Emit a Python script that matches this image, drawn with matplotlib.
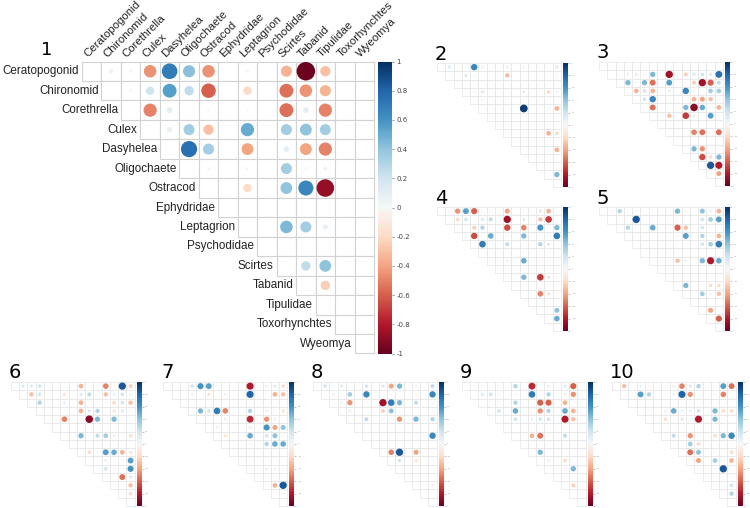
import numpy as np
import matplotlib
matplotlib.use("Agg")
import matplotlib.pyplot as plt
from matplotlib.patches import Rectangle, Circle
from matplotlib import cm, colors

taxa = ["Ceratopogonid", "Chironomid", "Corethrella", "Culex", "Dasyhelea",
        "Oligochaete", "Ostracod", "Ephydridae", "Leptagrion", "Psychodidae",
        "Scirtes", "Tabanid", "Tipulidae", "Toxorhynchtes", "Wyeomya"]

# (row, col, r) for the upper triangle of each site
p1 = [(0, 1, 0.05), (0, 2, -0.03), (0, 3, -0.45), (0, 4, 0.7), (0, 5, 0.42), (0, 6, -0.45),
      (0, 8, -0.03), (0, 10, -0.35), (0, 11, -0.98), (0, 12, -0.3),
      (1, 2, -0.02), (1, 3, 0.2), (1, 4, 0.55), (1, 5, 0.25), (1, 6, -0.6), (1, 8, -0.2),
      (1, 10, -0.55), (1, 11, -0.45), (1, 12, -0.35),
      (2, 3, -0.5), (2, 4, 0.1), (2, 6, 0.02), (2, 8, -0.02), (2, 10, -0.55), (2, 11, 0.1), (2, 12, -0.5),
      (3, 4, 0.08), (3, 5, 0.35), (3, 6, -0.3), (3, 8, 0.5), (3, 10, 0.35), (3, 11, 0.4), (3, 12, 0.35),
      (4, 5, 0.75), (4, 6, 0.35), (4, 8, -0.4), (4, 10, 0.1), (4, 11, -0.4), (4, 12, -0.5),
      (5, 6, 0.02), (5, 8, -0.02), (5, 10, 0.35), (5, 11, 0.02), (5, 12, 0.04),
      (6, 8, -0.2), (6, 10, 0.4), (6, 11, 0.65), (6, 12, -0.88),
      (8, 10, 0.45), (8, 11, 0.35), (8, 12, 0.08),
      (10, 11, 0.25), (10, 12, 0.4), (11, 12, -0.25)]

p2 = [(0, 1, 0.15), (0, 3, 0.03), (0, 4, 0.65), (0, 5, -0.1), (0, 8, -0.1), (0, 10, -0.08), (0, 14, 0.15),
      (1, 3, 0.15), (1, 4, 0.05), (1, 5, -0.03), (1, 8, -0.3), (1, 10, -0.03), (1, 14, 0.03),
      (3, 4, 0.05), (3, 5, 0.15), (3, 10, 0.1), (3, 13, -0.2), (3, 14, 0.08),
      (4, 5, -0.05), (4, 8, -0.03), (4, 10, -0.03), (4, 13, -0.03),
      (5, 10, 0.95), (5, 13, -0.05), (5, 14, -0.35),
      (8, 10, -0.03), (8, 13, -0.35), (8, 14, -0.2),
      (10, 13, -0.05), (10, 14, -0.35), (13, 14, 0.45)]

p3 = [(1, 3, 0.1), (1, 4, 0.12), (1, 5, 0.05), (1, 6, 0.45), (1, 8, -0.85), (1, 10, -0.25),
      (1, 11, 0.15), (1, 12, 0.2), (1, 13, 0.15), (1, 14, 0.75),
      (2, 3, 0.45), (2, 4, 0.05), (2, 5, 0.45), (2, 6, -0.55), (2, 8, 0.55), (2, 10, 0.03),
      (2, 11, -0.25), (2, 12, -0.85), (2, 13, -0.6), (2, 14, 0.25),
      (3, 4, -0.35), (3, 5, 0.2), (3, 6, -0.35), (3, 8, 0.1), (3, 10, 0.65), (3, 11, -0.05),
      (3, 12, -0.03), (3, 13, 0.35), (3, 14, 0.35),
      (4, 5, 0.2), (4, 6, 0.65), (4, 10, 0.03), (4, 11, -0.35), (4, 12, -0.4), (4, 13, -0.3), (4, 14, 0.05),
      (5, 6, -0.55), (5, 10, 0.45), (5, 11, -0.9), (5, 12, 0.5), (5, 13, 0.03), (5, 14, -0.35),
      (6, 8, -0.3), (6, 10, -0.7), (6, 11, 0.1), (6, 12, 0.03), (6, 13, 0.55), (6, 14, 0.05),
      (8, 10, -0.03), (8, 11, -0.5), (8, 12, -0.55), (8, 14, -0.55),
      (10, 11, 0.45), (10, 12, -0.45), (10, 13, 0.03),
      (11, 12, -0.65), (11, 13, -0.2), (11, 14, 0.45),
      (12, 13, 0.85), (12, 14, -0.8), (13, 14, -0.4)]

p4 = [(0, 1, 0.03), (0, 2, -0.45), (0, 3, 0.55), (0, 4, -0.6), (0, 5, 0.03), (0, 6, -0.05),
      (0, 8, -0.4), (0, 10, 0.03), (0, 12, 0.15), (0, 13, -0.35), (0, 14, 0.05),
      (1, 2, -0.2), (1, 3, 0.2), (1, 4, 0.03), (1, 5, 0.15), (1, 6, 0.25), (1, 8, -0.85),
      (1, 10, 0.15), (1, 12, -0.3), (1, 13, -0.7), (1, 14, 0.03),
      (2, 4, -0.25), (2, 5, 0.3), (2, 8, -0.65), (2, 10, -0.5), (2, 12, 0.6), (2, 13, -0.05), (2, 14, 0.45),
      (3, 4, -0.65), (3, 6, 0.5), (3, 8, -0.05), (3, 10, 0.45), (3, 12, 0.03), (3, 13, -0.05), (3, 14, 0.7),
      (4, 5, 0.7), (4, 8, 0.25), (4, 12, 0.3), (4, 13, 0.15),
      (5, 10, 0.03), (5, 12, 0.03), (5, 13, -0.03),
      (6, 8, -0.1), (6, 10, 0.5), (6, 13, -0.05),
      (8, 10, 0.45), (8, 12, -0.7), (8, 13, 0.15), (8, 14, -0.05),
      (10, 12, -0.5), (10, 13, -0.15), (10, 14, 0.03),
      (12, 13, -0.03), (12, 14, 0.4), (13, 14, 0.5)]

p5 = [(0, 1, 0.05), (0, 2, 0.3), (0, 3, -0.05), (0, 4, 0.03), (0, 6, 0.05), (0, 9, 0.45),
      (0, 10, -0.05), (0, 12, 0.4), (0, 13, 0.1), (0, 14, -0.35),
      (1, 3, 0.03), (1, 4, 0.85), (1, 6, 0.03), (1, 9, 0.03), (1, 10, 0.03), (1, 12, 0.2),
      (1, 13, 0.35), (1, 14, 0.55),
      (2, 3, 0.3), (2, 4, 0.03), (2, 6, 0.5), (2, 9, -0.6), (2, 10, -0.3), (2, 12, 0.2), (2, 13, -0.05),
      (3, 6, 0.03), (3, 9, -0.05), (3, 10, 0.55), (3, 12, 0.3), (3, 13, 0.03), (3, 14, -0.35),
      (4, 6, 0.03), (4, 9, 0.03), (4, 10, 0.03), (4, 12, 0.2), (4, 13, 0.35), (4, 14, 0.7),
      (6, 9, -0.3), (6, 10, 0.1), (6, 12, 0.45), (6, 13, -0.8), (6, 14, 0.5),
      (9, 10, 0.45), (9, 12, 0.03), (9, 13, -0.2), (9, 14, -0.2),
      (10, 12, 0.35), (10, 13, 0.05), (10, 14, -0.3),
      (12, 13, -0.4), (13, 14, -0.6)]

p6 = [(0, 1, 0.15), (0, 2, 0.15), (0, 3, 0.2), (0, 4, 0.03), (0, 6, 0.03), (0, 8, -0.35),
      (0, 9, 0.03), (0, 10, 0.03), (0, 11, -0.5), (0, 12, 0.03), (0, 13, 0.85), (0, 14, -0.25),
      (1, 2, -0.3), (1, 3, 0.2), (1, 4, 0.03), (1, 6, -0.15), (1, 8, 0.15), (1, 9, 0.25),
      (1, 11, -0.3), (1, 12, 0.1), (1, 13, 0.2), (1, 14, 0.1),
      (2, 3, 0.3), (2, 6, 0.1), (2, 8, -0.35), (2, 10, 0.03), (2, 11, 0.05), (2, 12, -0.2),
      (2, 13, 0.2), (2, 14, -0.3),
      (3, 6, 0.03), (3, 8, -0.35), (3, 9, 0.15), (3, 10, 0.3), (3, 12, -0.15), (3, 13, 0.15), (3, 14, 0.03),
      (4, 6, -0.5), (4, 9, -0.9), (4, 10, 0.45), (4, 11, 0.03), (4, 12, 0.45), (4, 13, 0.03),
      (6, 8, 0.45), (6, 10, 0.25), (6, 11, 0.35), (6, 12, 0.1), (6, 13, 0.03), (6, 14, -0.2),
      (8, 9, -0.2), (8, 10, 0.03), (8, 11, 0.55), (8, 12, 0.5), (8, 13, -0.35), (8, 14, -0.15),
      (9, 11, -0.1), (9, 12, 0.03), (9, 13, 0.03), (9, 14, 0.55),
      (10, 11, 0.2), (10, 12, 0.03), (10, 14, 0.6),
      (11, 13, -0.55), (11, 14, 0.15), (12, 14, -0.3), (13, 14, -0.2)]

p7 = [(0, 3, 0.2), (0, 4, 0.6), (0, 5, 0.55), (0, 6, -0.05), (0, 7, 0.03), (0, 10, -0.8),
      (0, 12, 0.1), (0, 13, 0.15), (0, 14, -0.2),
      (1, 3, -0.1), (1, 5, -0.15), (1, 7, 0.1), (1, 10, 0.8), (1, 12, 0.03), (1, 13, -0.35), (1, 14, -0.3),
      (3, 4, 0.45), (3, 5, 0.2), (3, 6, 0.7), (3, 7, -0.5), (3, 10, 0.3), (3, 12, -0.1),
      (3, 13, 0.03), (3, 14, -0.15),
      (4, 7, 0.1), (4, 10, -0.75), (4, 12, -0.45), (4, 13, 0.1),
      (5, 6, -0.1), (5, 10, -0.1), (5, 12, 0.6), (5, 13, -0.4), (5, 14, 0.4),
      (6, 7, -0.15), (6, 10, 0.5), (6, 12, 0.2), (6, 13, 0.4), (6, 14, 0.03),
      (7, 10, -0.05), (7, 12, 0.3), (7, 13, 0.5), (7, 14, 0.5),
      (10, 12, 0.1), (10, 13, -0.08), (10, 14, -0.05),
      (12, 13, -0.35), (12, 14, 0.85), (13, 14, -0.05)]

p8 = [(0, 1, 0.2), (0, 2, 0.03), (0, 3, 0.15), (0, 6, 0.2), (0, 8, 0.15), (0, 9, -0.4),
      (0, 10, 0.45), (0, 12, 0.1), (0, 14, 0.25),
      (1, 2, -0.1), (1, 3, 0.03), (1, 4, 0.35), (1, 6, 0.65), (1, 9, 0.03), (1, 12, -0.05), (1, 14, 0.65),
      (2, 3, 0.1), (2, 4, -0.45), (2, 6, -0.05), (2, 8, -0.85), (2, 9, 0.7), (2, 10, 0.45),
      (2, 12, 0.25), (2, 14, -0.05),
      (3, 4, -0.1), (3, 8, -0.25), (3, 9, 0.4), (3, 12, 0.03), (3, 14, 0.03),
      (4, 6, 0.25), (4, 8, -0.05), (4, 9, 0.03), (4, 10, -0.45), (4, 12, 0.45), (4, 14, 0.3),
      (6, 9, 0.03), (6, 10, 0.03), (6, 12, -0.05), (6, 14, 0.65),
      (8, 9, -0.5), (8, 10, 0.85), (8, 12, -0.4),
      (9, 10, 0.2), (9, 12, -0.15), (9, 14, 0.03), (12, 14, -0.1)]

p9 = [(0, 1, 0.05), (0, 2, 0.03), (0, 4, 0.05), (0, 6, 0.3), (0, 8, -0.75), (0, 9, 0.03),
      (0, 10, 0.1), (0, 12, 0.15), (0, 13, -0.6),
      (1, 2, 0.15), (1, 3, 0.2), (1, 4, 0.05), (1, 6, -0.05), (1, 8, 0.7), (1, 9, 0.03),
      (1, 10, 0.3), (1, 12, -0.1), (1, 13, -0.45),
      (2, 3, 0.03), (2, 4, 0.03), (2, 6, 0.3), (2, 9, -0.6), (2, 10, -0.6), (2, 12, -0.35), (2, 13, 0.03),
      (3, 4, 0.2), (3, 6, 0.5), (3, 9, -0.45), (3, 10, 0.3), (3, 12, 0.5), (3, 13, -0.35),
      (4, 6, 0.2), (4, 8, 0.1), (4, 9, 0.2), (4, 10, 0.2), (4, 12, -0.8), (4, 13, -0.3),
      (6, 8, -0.35), (6, 9, -0.55), (6, 12, 0.25), (6, 13, 0.03),
      (8, 9, 0.45), (9, 10, 0.1), (9, 12, -0.2),
      (10, 12, -0.05), (10, 13, 0.45), (12, 13, -0.25)]

p10 = [(0, 1, -0.3), (0, 3, 0.1), (0, 4, -0.05), (0, 6, 0.03), (0, 7, -0.1), (0, 8, -0.5),
       (0, 9, 0.15), (0, 10, 0.3), (0, 12, 0.03), (0, 13, 0.55), (0, 14, -0.55),
       (1, 3, 0.55), (1, 4, 0.3), (1, 6, 0.03), (1, 7, 0.1), (1, 8, 0.8), (1, 9, -0.45),
       (1, 12, 0.05), (1, 13, -0.5),
       (3, 4, 0.03), (3, 6, -0.1), (3, 7, 0.5), (3, 8, 0.1), (3, 9, 0.1), (3, 10, 0.2),
       (3, 12, 0.45), (3, 13, -0.2), (3, 14, -0.2),
       (4, 6, -0.2), (4, 8, 0.15), (4, 10, -0.8), (4, 12, 0.45), (4, 13, 0.03),
       (6, 7, 0.25), (6, 8, 0.03), (6, 9, -0.45), (6, 12, -0.2), (6, 13, 0.45), (6, 14, 0.65),
       (7, 9, 0.35), (7, 10, -0.2), (7, 14, 0.03),
       (8, 9, -0.55), (8, 10, 0.4), (8, 12, 0.03), (8, 14, -0.2),
       (9, 10, -0.4), (9, 12, 0.35), (9, 13, 0.03), (9, 14, -0.35),
       (10, 12, -0.05), (10, 13, 0.85), (12, 14, 0.2), (13, 14, 0.3)]

W, H = 750, 508
fig = plt.figure(figsize=(7.5, 5.08), dpi=100)
cmap = plt.get_cmap("RdBu")
norm = colors.Normalize(-1, 1)


def box(x, y, w, h):
    return [x / W, 1 - (y + h) / H, w / W, h / H]


def corr_panel(vals, x0, y0, size, grid_col, lw, cb_gap, cb_w, tick_fs, tick_col, pad):
    ax = fig.add_axes(box(x0, y0, size, size))
    ax.set_xlim(0, 15)
    ax.set_ylim(15, 0)
    ax.axis("off")
    for i in range(15):
        for j in range(i, 15):
            ax.add_patch(Rectangle((j, i), 1, 1, fc="white", ec=grid_col, lw=lw, clip_on=False))
    for i, j, r in vals:
        ax.add_patch(Circle((j + 0.5, i + 0.5), 0.48 * np.sqrt(abs(r)),
                            fc=cmap(norm(r)), ec="none", clip_on=False))
    cax = fig.add_axes(box(x0 + size + cb_gap, y0, cb_w, size))
    ticks = np.round(np.linspace(-1, 1, 11), 1)
    cb = fig.colorbar(cm.ScalarMappable(norm=norm, cmap=cmap), cax=cax, ticks=ticks)
    cb.outline.set_visible(False)
    cb.ax.set_yticklabels(["%g" % (t + 0.0) for t in ticks])
    cb.ax.tick_params(labelsize=tick_fs, length=1.5, width=0.4, pad=pad,
                      colors=tick_col, labelcolor=tick_col)
    return ax


# panel 1, labelled
ax1 = corr_panel(p1, 82, 61.5, 292, "#d2d2d2", 0.8, 4, 14, 5, "#444444", 1.5)
for i, name in enumerate(taxa):
    ax1.text(i - 0.15, i + 0.5, name, ha="right", va="center",
             fontsize=8.4, family="Liberation Sans", color="#222222")
    ax1.text(i + 0.3, -0.2, name, ha="left", va="baseline", rotation=45,
             rotation_mode="anchor", fontsize=8.2, family="Liberation Sans", color="#222222")
fig.text(47 / W, 1 - 50 / H, "1", fontsize=13, ha="center", va="center")

small = [(p2, 437, 63, "2"), (p3, 599, 62, "3"), (p4, 437, 207, "4"), (p5, 599, 207, "5"),
         (p6, 10.7, 382, "6"), (p7, 163.3, 382, "7"), (p8, 312.7, 382, "8"),
         (p9, 461.7, 382, "9"), (p10, 611.7, 382, "10")]
for vals, x0, y0, num in small:
    corr_panel(vals, x0, y0, 124, "#e4e4e4", 0.5, 2, 5, 1.5, "#999999", 1)
    fig.text((x0 - 2) / W, 1 - (y0 - 9) / H, num, fontsize=14, ha="left", va="center")

fig.savefig("out.png", dpi=100, facecolor="white")
